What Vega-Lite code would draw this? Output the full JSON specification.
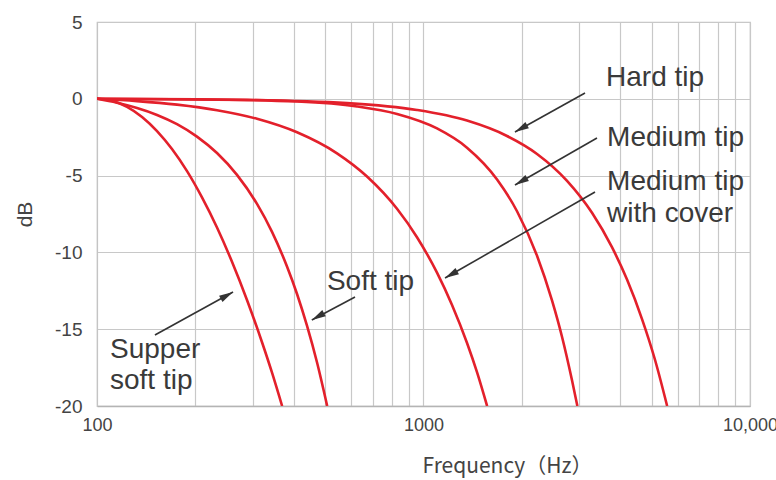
{
  "$schema": "https://vega.github.io/schema/vega-lite/v6.json",
  "width": 653,
  "height": 384,
  "autosize": "none",
  "padding": {"left": 97, "top": 22, "right": 26, "bottom": 74},
  "background": "white",
  "config": {
    "view": {"stroke": "#c4c4c4", "strokeWidth": 1.2},
    "font": "Liberation Sans"
  },
  "datasets": {
    "curves": [
      {"tip": "Hard tip", "freq": 100, "db": 0},
      {"tip": "Hard tip", "freq": 288, "db": -0.07},
      {"tip": "Hard tip", "freq": 583, "db": -0.28},
      {"tip": "Hard tip", "freq": 955, "db": -0.73},
      {"tip": "Hard tip", "freq": 1359, "db": -1.42},
      {"tip": "Hard tip", "freq": 1802, "db": -2.42},
      {"tip": "Hard tip", "freq": 2227, "db": -3.59},
      {"tip": "Hard tip", "freq": 2752, "db": -5.34},
      {"tip": "Hard tip", "freq": 3282, "db": -7.42},
      {"tip": "Hard tip", "freq": 3778, "db": -9.66},
      {"tip": "Hard tip", "freq": 4201, "db": -11.77},
      {"tip": "Hard tip", "freq": 4670, "db": -14.34},
      {"tip": "Hard tip", "freq": 5117, "db": -16.99},
      {"tip": "Hard tip", "freq": 5575, "db": -20.0},
      {"tip": "Medium tip", "freq": 100, "db": 0},
      {"tip": "Medium tip", "freq": 202, "db": -0.03},
      {"tip": "Medium tip", "freq": 410, "db": -0.18},
      {"tip": "Medium tip", "freq": 626, "db": -0.5},
      {"tip": "Medium tip", "freq": 830, "db": -0.99},
      {"tip": "Medium tip", "freq": 1100, "db": -1.93},
      {"tip": "Medium tip", "freq": 1359, "db": -3.18},
      {"tip": "Medium tip", "freq": 1680, "db": -5.25},
      {"tip": "Medium tip", "freq": 1934, "db": -7.32},
      {"tip": "Medium tip", "freq": 2227, "db": -10.22},
      {"tip": "Medium tip", "freq": 2475, "db": -13.13},
      {"tip": "Medium tip", "freq": 2657, "db": -15.51},
      {"tip": "Medium tip", "freq": 2850, "db": -18.33},
      {"tip": "Medium tip", "freq": 2960, "db": -20.0},
      {"tip": "Medium tip with cover", "freq": 100, "db": 0},
      {"tip": "Medium tip with cover", "freq": 132.6, "db": -0.15},
      {"tip": "Medium tip with cover", "freq": 175.8, "db": -0.38},
      {"tip": "Medium tip with cover", "freq": 233.1, "db": -0.74},
      {"tip": "Medium tip with cover", "freq": 309.1, "db": -1.3},
      {"tip": "Medium tip with cover", "freq": 409.9, "db": -2.18},
      {"tip": "Medium tip with cover", "freq": 543.4, "db": -3.55},
      {"tip": "Medium tip with cover", "freq": 671.4, "db": -5.06},
      {"tip": "Medium tip with cover", "freq": 829.6, "db": -7.16},
      {"tip": "Medium tip with cover", "freq": 955.2, "db": -9.01},
      {"tip": "Medium tip with cover", "freq": 1099.9, "db": -11.32},
      {"tip": "Medium tip with cover", "freq": 1222.8, "db": -13.42},
      {"tip": "Medium tip with cover", "freq": 1359.4, "db": -15.9},
      {"tip": "Medium tip with cover", "freq": 1458.4, "db": -17.8},
      {"tip": "Medium tip with cover", "freq": 1566, "db": -20.0},
      {"tip": "Soft tip", "freq": 100, "db": 0},
      {"tip": "Soft tip", "freq": 115.1, "db": -0.26},
      {"tip": "Soft tip", "freq": 132.6, "db": -0.6},
      {"tip": "Soft tip", "freq": 152.7, "db": -1.05},
      {"tip": "Soft tip", "freq": 175.8, "db": -1.65},
      {"tip": "Soft tip", "freq": 202.4, "db": -2.46},
      {"tip": "Soft tip", "freq": 233.1, "db": -3.53},
      {"tip": "Soft tip", "freq": 268.4, "db": -4.95},
      {"tip": "Soft tip", "freq": 309.1, "db": -6.84},
      {"tip": "Soft tip", "freq": 343.6, "db": -8.66},
      {"tip": "Soft tip", "freq": 381.9, "db": -10.92},
      {"tip": "Soft tip", "freq": 409.9, "db": -12.71},
      {"tip": "Soft tip", "freq": 439.9, "db": -14.79},
      {"tip": "Soft tip", "freq": 472.0, "db": -17.17},
      {"tip": "Soft tip", "freq": 507, "db": -20.0},
      {"tip": "Supper soft tip", "freq": 100, "db": 0},
      {"tip": "Supper soft tip", "freq": 111.2, "db": -0.13},
      {"tip": "Supper soft tip", "freq": 123.6, "db": -0.52},
      {"tip": "Supper soft tip", "freq": 137.4, "db": -1.18},
      {"tip": "Supper soft tip", "freq": 152.7, "db": -2.1},
      {"tip": "Supper soft tip", "freq": 169.7, "db": -3.27},
      {"tip": "Supper soft tip", "freq": 188.7, "db": -4.71},
      {"tip": "Supper soft tip", "freq": 209.7, "db": -6.42},
      {"tip": "Supper soft tip", "freq": 233.1, "db": -8.38},
      {"tip": "Supper soft tip", "freq": 259.1, "db": -10.61},
      {"tip": "Supper soft tip", "freq": 288.0, "db": -13.1},
      {"tip": "Supper soft tip", "freq": 320.2, "db": -15.85},
      {"tip": "Supper soft tip", "freq": 343.6, "db": -17.83},
      {"tip": "Supper soft tip", "freq": 369, "db": -20.0}
    ],
    "arrows": [
      {"tip": "Hard tip", "f0": 3124, "d0": 0.38, "f1": 1906, "d1": -2.16},
      {"tip": "Medium tip", "f0": 3399, "d0": -2.55, "f1": 1906, "d1": -5.61},
      {"tip": "Medium tip with cover", "f0": 3352, "d0": -6.07, "f1": 1164, "d1": -11.67},
      {"tip": "Soft tip", "f0": 617, "d0": -12.9, "f1": 455, "d1": -14.4},
      {"tip": "Supper soft tip", "f0": 150.5, "d0": -15.38, "f1": 261, "d1": -12.58}
    ],
    "labels": [
      {"text": "Hard tip", "freq": 3623, "db": 1.35},
      {"text": "Medium tip", "freq": 3650, "db": -2.55},
      {"text": "Medium tip", "freq": 3650, "db": -5.42},
      {"text": "with cover", "freq": 3650, "db": -7.5},
      {"text": "Soft tip", "freq": 506, "db": -11.93},
      {"text": "Supper", "freq": 109.6, "db": -16.35},
      {"text": "soft tip", "freq": 109.6, "db": -18.37}
    ]
  },
  "layer": [
    {
      "data": {"name": "curves"},
      "mark": {"type": "line", "color": "#e3202b", "strokeWidth": 2.6, "interpolate": "monotone", "clip": true},
      "encoding": {
        "x": {
          "field": "freq", "type": "quantitative",
          "scale": {"type": "log", "domain": [100, 10000]},
          "axis": {
            "values": [100, 200, 300, 400, 500, 600, 700, 800, 900, 1000, 2000, 3000, 4000, 5000, 6000, 7000, 8000, 9000, 10000],
            "labelExpr": "datum.value == 100 ? '100' : datum.value == 1000 ? '1000' : datum.value == 10000 ? '10,000' : ''",
            "grid": true, "gridColor": "#c8c8c8", "gridWidth": 1.2,
            "ticks": false, "domainColor": "#b4b4b4", "domainWidth": 1.5,
            "labelFontSize": 18, "labelColor": "#444", "labelPadding": 10,
            "labelFlush": false, "labelOverlap": false,
            "title": "Frequency（Hz）", "titleFont": "Noto Sans CJK KR", "titleFontSize": 21, "titleFontWeight": "normal",
            "titleColor": "#444", "titleX": 410, "titleY": 60, "titleBaseline": "middle", "titleAlign": "center"
          }
        },
        "y": {
          "field": "db", "type": "quantitative",
          "scale": {"domain": [-20, 5], "nice": false},
          "axis": {
            "values": [-20, -15, -10, -5, 0, 5],
            "labelExpr": "'' + datum.value",
            "grid": true, "gridColor": "#c8c8c8", "gridWidth": 1.2,
            "ticks": false, "domainColor": "#c4c4c4",
            "labelFontSize": 19, "labelColor": "#444", "labelPadding": 15,
            "title": "dB", "titleFontSize": 21, "titleFontWeight": "normal", "titleColor": "#444",
            "titleX": -72, "titleY": 192, "titleBaseline": "middle", "titleAlign": "center", "titleAngle": -90
          }
        },
        "detail": {"field": "tip"}
      }
    },
    {
      "data": {"name": "arrows"},
      "mark": {"type": "rule", "color": "#333", "strokeWidth": 1.6},
      "encoding": {
        "x": {"field": "f0", "type": "quantitative"},
        "x2": {"field": "f1"},
        "y": {"field": "d0", "type": "quantitative"},
        "y2": {"field": "d1"}
      }
    },
    {
      "data": {"name": "arrows"},
      "transform": [{"filter": "datum.tip == 'Supper soft tip'"}],
      "mark": {"type": "point", "shape": "M0,0L-0.5,2L0.5,2Z", "filled": true, "color": "#333", "opacity": 1, "size": 196, "angle": 61},
      "encoding": {
        "x": {"field": "f1", "type": "quantitative"},
        "y": {"field": "d1", "type": "quantitative"}
      }
    },
    {
      "data": {"name": "arrows"},
      "transform": [{"filter": "datum.tip != 'Supper soft tip'"}],
      "mark": {"type": "point", "shape": "M0,0L-0.5,2L0.5,2Z", "filled": true, "color": "#333", "opacity": 1, "size": 196, "angle": 240.5},
      "encoding": {
        "x": {"field": "f1", "type": "quantitative"},
        "y": {"field": "d1", "type": "quantitative"}
      }
    },
    {
      "data": {"name": "labels"},
      "mark": {"type": "text", "align": "left", "baseline": "middle", "fontSize": 28, "color": "#3a3a3a"},
      "encoding": {
        "x": {"field": "freq", "type": "quantitative"},
        "y": {"field": "db", "type": "quantitative"},
        "text": {"field": "text"}
      }
    }
  ]
}
